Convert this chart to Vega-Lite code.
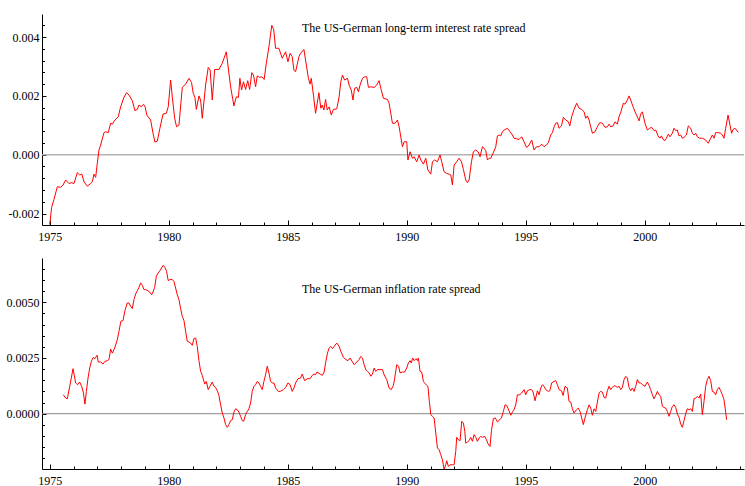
{
  "$schema": "https://vega.github.io/schema/vega-lite/v6.json",
  "padding": {"left": 6, "top": 14, "right": 0, "bottom": 0},
  "autosize": {"type": "pad"},
  "spacing": 16,
  "config": {
    "view": {"stroke": null},
    "font": "Liberation Serif",
    "axis": {
      "labelFont": "Liberation Serif",
      "labelFontSize": 12,
      "labelColor": "#000000",
      "domainColor": "#000000",
      "domainWidth": 1,
      "tickColor": "#000000",
      "tickWidth": 1,
      "grid": false,
      "title": null,
      "labelFlush": false,
      "labelOverlap": false
    }
  },
  "datasets": {
    "ir": [
      {"t": 1975.00, "v": -0.00238}, {"t": 1975.08, "v": -0.00179}, {"t": 1975.18, "v": -0.00152}, {"t": 1975.32, "v": -0.00109},
      {"t": 1975.46, "v": -0.00111}, {"t": 1975.56, "v": -0.00103}, {"t": 1975.67, "v": -0.00086}, {"t": 1975.81, "v": -0.00098},
      {"t": 1975.92, "v": -0.00095}, {"t": 1976.02, "v": -0.00098}, {"t": 1976.16, "v": -0.00061}, {"t": 1976.26, "v": -0.00069},
      {"t": 1976.35, "v": -0.00066}, {"t": 1976.44, "v": -0.00092}, {"t": 1976.58, "v": -0.00107}, {"t": 1976.72, "v": -0.00098},
      {"t": 1976.79, "v": -0.00092}, {"t": 1976.86, "v": -0.00066}, {"t": 1976.93, "v": -0.00077}, {"t": 1977.00, "v": -0.00029},
      {"t": 1977.07, "v": 0.00016}, {"t": 1977.14, "v": 0.00033}, {"t": 1977.28, "v": 0.00075}, {"t": 1977.35, "v": 0.00078},
      {"t": 1977.46, "v": 0.00075}, {"t": 1977.56, "v": 0.00107}, {"t": 1977.63, "v": 0.00104}, {"t": 1977.74, "v": 0.00118},
      {"t": 1977.88, "v": 0.00129}, {"t": 1977.98, "v": 0.00163}, {"t": 1978.12, "v": 0.00195}, {"t": 1978.23, "v": 0.00211},
      {"t": 1978.33, "v": 0.00203}, {"t": 1978.47, "v": 0.00184}, {"t": 1978.58, "v": 0.00150}, {"t": 1978.68, "v": 0.00154},
      {"t": 1978.75, "v": 0.00169}, {"t": 1978.85, "v": 0.00163}, {"t": 1978.93, "v": 0.00171}, {"t": 1979.00, "v": 0.00166},
      {"t": 1979.08, "v": 0.00135}, {"t": 1979.24, "v": 0.00118}, {"t": 1979.34, "v": 0.00073}, {"t": 1979.42, "v": 0.00043},
      {"t": 1979.52, "v": 0.00046}, {"t": 1979.63, "v": 0.00090}, {"t": 1979.76, "v": 0.00138}, {"t": 1979.90, "v": 0.00141},
      {"t": 1979.98, "v": 0.00163}, {"t": 1980.08, "v": 0.00254}, {"t": 1980.15, "v": 0.00197}, {"t": 1980.25, "v": 0.00124},
      {"t": 1980.33, "v": 0.00095}, {"t": 1980.43, "v": 0.00101}, {"t": 1980.57, "v": 0.00229}, {"t": 1980.71, "v": 0.00240},
      {"t": 1980.85, "v": 0.00260}, {"t": 1980.96, "v": 0.00245}, {"t": 1981.03, "v": 0.00209}, {"t": 1981.10, "v": 0.00195},
      {"t": 1981.16, "v": 0.00154}, {"t": 1981.27, "v": 0.00200}, {"t": 1981.34, "v": 0.00186}, {"t": 1981.41, "v": 0.00124},
      {"t": 1981.55, "v": 0.00237}, {"t": 1981.66, "v": 0.00297}, {"t": 1981.74, "v": 0.00288}, {"t": 1981.83, "v": 0.00186},
      {"t": 1981.93, "v": 0.00290}, {"t": 1982.11, "v": 0.00290}, {"t": 1982.25, "v": 0.00311}, {"t": 1982.42, "v": 0.00350},
      {"t": 1982.60, "v": 0.00231}, {"t": 1982.74, "v": 0.00166}, {"t": 1982.84, "v": 0.00197}, {"t": 1982.93, "v": 0.00195},
      {"t": 1982.99, "v": 0.00260}, {"t": 1983.06, "v": 0.00220}, {"t": 1983.14, "v": 0.00248}, {"t": 1983.23, "v": 0.00222},
      {"t": 1983.32, "v": 0.00252}, {"t": 1983.40, "v": 0.00222}, {"t": 1983.49, "v": 0.00279}, {"t": 1983.56, "v": 0.00271},
      {"t": 1983.65, "v": 0.00231}, {"t": 1983.72, "v": 0.00268}, {"t": 1983.82, "v": 0.00263}, {"t": 1983.91, "v": 0.00265},
      {"t": 1984.01, "v": 0.00256}, {"t": 1984.10, "v": 0.00311}, {"t": 1984.21, "v": 0.00367}, {"t": 1984.33, "v": 0.00440},
      {"t": 1984.41, "v": 0.00426}, {"t": 1984.49, "v": 0.00362}, {"t": 1984.63, "v": 0.00362}, {"t": 1984.77, "v": 0.00328},
      {"t": 1984.91, "v": 0.00350}, {"t": 1985.01, "v": 0.00316}, {"t": 1985.10, "v": 0.00345}, {"t": 1985.19, "v": 0.00333},
      {"t": 1985.26, "v": 0.00288}, {"t": 1985.33, "v": 0.00282}, {"t": 1985.47, "v": 0.00333}, {"t": 1985.54, "v": 0.00345},
      {"t": 1985.68, "v": 0.00358}, {"t": 1985.75, "v": 0.00322}, {"t": 1985.87, "v": 0.00260}, {"t": 1985.94, "v": 0.00240},
      {"t": 1985.99, "v": 0.00260}, {"t": 1986.08, "v": 0.00203}, {"t": 1986.17, "v": 0.00141}, {"t": 1986.24, "v": 0.00175},
      {"t": 1986.31, "v": 0.00211}, {"t": 1986.39, "v": 0.00158}, {"t": 1986.45, "v": 0.00169}, {"t": 1986.52, "v": 0.00152},
      {"t": 1986.59, "v": 0.00188}, {"t": 1986.66, "v": 0.00152}, {"t": 1986.74, "v": 0.00163}, {"t": 1986.83, "v": 0.00135},
      {"t": 1986.92, "v": 0.00154}, {"t": 1987.06, "v": 0.00156}, {"t": 1987.16, "v": 0.00197}, {"t": 1987.23, "v": 0.00248},
      {"t": 1987.30, "v": 0.00271}, {"t": 1987.39, "v": 0.00254}, {"t": 1987.51, "v": 0.00260}, {"t": 1987.58, "v": 0.00237},
      {"t": 1987.67, "v": 0.00220}, {"t": 1987.74, "v": 0.00186}, {"t": 1987.81, "v": 0.00226}, {"t": 1987.90, "v": 0.00229},
      {"t": 1987.97, "v": 0.00214}, {"t": 1988.04, "v": 0.00237}, {"t": 1988.14, "v": 0.00260}, {"t": 1988.23, "v": 0.00265},
      {"t": 1988.32, "v": 0.00265}, {"t": 1988.39, "v": 0.00229}, {"t": 1988.49, "v": 0.00231}, {"t": 1988.63, "v": 0.00229},
      {"t": 1988.74, "v": 0.00237}, {"t": 1988.84, "v": 0.00252}, {"t": 1988.91, "v": 0.00226}, {"t": 1989.02, "v": 0.00192},
      {"t": 1989.19, "v": 0.00188}, {"t": 1989.26, "v": 0.00175}, {"t": 1989.33, "v": 0.00141}, {"t": 1989.40, "v": 0.00107},
      {"t": 1989.51, "v": 0.00107}, {"t": 1989.61, "v": 0.00118}, {"t": 1989.68, "v": 0.00095}, {"t": 1989.82, "v": 0.00027},
      {"t": 1989.89, "v": 0.00044}, {"t": 1990.00, "v": 0.00044}, {"t": 1990.05, "v": -0.00018}, {"t": 1990.14, "v": 0.00010},
      {"t": 1990.24, "v": -0.00012}, {"t": 1990.31, "v": -0.00007}, {"t": 1990.42, "v": -0.00024}, {"t": 1990.52, "v": -0.00001},
      {"t": 1990.59, "v": -0.00018}, {"t": 1990.70, "v": -0.00032}, {"t": 1990.80, "v": -0.00012}, {"t": 1990.89, "v": -0.00052},
      {"t": 1991.01, "v": -0.00066}, {"t": 1991.08, "v": -0.00024}, {"t": 1991.17, "v": -0.00018}, {"t": 1991.29, "v": -0.00024},
      {"t": 1991.40, "v": -0.00001}, {"t": 1991.47, "v": -0.00024}, {"t": 1991.57, "v": -0.00058}, {"t": 1991.68, "v": -0.00064},
      {"t": 1991.78, "v": -0.00066}, {"t": 1991.85, "v": -0.00069}, {"t": 1991.92, "v": -0.00103}, {"t": 1991.99, "v": -0.00035},
      {"t": 1992.10, "v": -0.00024}, {"t": 1992.20, "v": -0.00012}, {"t": 1992.30, "v": -0.00024}, {"t": 1992.38, "v": -0.00050},
      {"t": 1992.48, "v": -0.00086}, {"t": 1992.55, "v": -0.00095}, {"t": 1992.62, "v": -0.00086}, {"t": 1992.72, "v": -0.00024},
      {"t": 1992.80, "v": 0.00010}, {"t": 1992.90, "v": 0.00016}, {"t": 1993.00, "v": 0.00010}, {"t": 1993.08, "v": -0.00007},
      {"t": 1993.18, "v": 0.00027}, {"t": 1993.25, "v": 0.00022}, {"t": 1993.32, "v": 0.00014}, {"t": 1993.39, "v": -0.00018},
      {"t": 1993.46, "v": -0.00012}, {"t": 1993.53, "v": -0.00012}, {"t": 1993.64, "v": 0.00007}, {"t": 1993.74, "v": 0.00027},
      {"t": 1993.81, "v": 0.00064}, {"t": 1993.88, "v": 0.00067}, {"t": 1993.95, "v": 0.00064}, {"t": 1994.02, "v": 0.00078},
      {"t": 1994.09, "v": 0.00084}, {"t": 1994.23, "v": 0.00090}, {"t": 1994.34, "v": 0.00078}, {"t": 1994.44, "v": 0.00067},
      {"t": 1994.51, "v": 0.00056}, {"t": 1994.72, "v": 0.00052}, {"t": 1994.83, "v": 0.00061}, {"t": 1994.93, "v": 0.00044},
      {"t": 1995.03, "v": 0.00025}, {"t": 1995.11, "v": 0.00029}, {"t": 1995.25, "v": 0.00050}, {"t": 1995.35, "v": 0.00016},
      {"t": 1995.45, "v": 0.00027}, {"t": 1995.56, "v": 0.00027}, {"t": 1995.67, "v": 0.00036}, {"t": 1995.77, "v": 0.00027},
      {"t": 1995.87, "v": 0.00033}, {"t": 1995.95, "v": 0.00041}, {"t": 1996.05, "v": 0.00067}, {"t": 1996.12, "v": 0.00075},
      {"t": 1996.19, "v": 0.00095}, {"t": 1996.26, "v": 0.00107}, {"t": 1996.33, "v": 0.00109}, {"t": 1996.40, "v": 0.00090},
      {"t": 1996.50, "v": 0.00098}, {"t": 1996.58, "v": 0.00127}, {"t": 1996.68, "v": 0.00118}, {"t": 1996.79, "v": 0.00112},
      {"t": 1996.85, "v": 0.00098}, {"t": 1996.93, "v": 0.00129}, {"t": 1997.03, "v": 0.00154}, {"t": 1997.14, "v": 0.00175},
      {"t": 1997.24, "v": 0.00158}, {"t": 1997.35, "v": 0.00154}, {"t": 1997.45, "v": 0.00146}, {"t": 1997.52, "v": 0.00124},
      {"t": 1997.59, "v": 0.00132}, {"t": 1997.66, "v": 0.00118}, {"t": 1997.73, "v": 0.00095}, {"t": 1997.80, "v": 0.00073},
      {"t": 1997.91, "v": 0.00078}, {"t": 1998.01, "v": 0.00095}, {"t": 1998.11, "v": 0.00109}, {"t": 1998.22, "v": 0.00107},
      {"t": 1998.33, "v": 0.00093}, {"t": 1998.43, "v": 0.00095}, {"t": 1998.50, "v": 0.00104}, {"t": 1998.57, "v": 0.00095},
      {"t": 1998.67, "v": 0.00098}, {"t": 1998.75, "v": 0.00112}, {"t": 1998.85, "v": 0.00104}, {"t": 1998.92, "v": 0.00129},
      {"t": 1999.00, "v": 0.00146}, {"t": 1999.10, "v": 0.00175}, {"t": 1999.17, "v": 0.00172}, {"t": 1999.27, "v": 0.00186},
      {"t": 1999.34, "v": 0.00200}, {"t": 1999.41, "v": 0.00186}, {"t": 1999.51, "v": 0.00163}, {"t": 1999.59, "v": 0.00146},
      {"t": 1999.69, "v": 0.00129}, {"t": 1999.76, "v": 0.00115}, {"t": 1999.83, "v": 0.00138}, {"t": 1999.90, "v": 0.00146},
      {"t": 1999.94, "v": 0.00132}, {"t": 2000.01, "v": 0.00107}, {"t": 2000.11, "v": 0.00084}, {"t": 2000.21, "v": 0.00090},
      {"t": 2000.29, "v": 0.00093}, {"t": 2000.39, "v": 0.00082}, {"t": 2000.46, "v": 0.00084}, {"t": 2000.56, "v": 0.00064},
      {"t": 2000.63, "v": 0.00056}, {"t": 2000.70, "v": 0.00064}, {"t": 2000.77, "v": 0.00052}, {"t": 2000.85, "v": 0.00048},
      {"t": 2000.91, "v": 0.00056}, {"t": 2000.99, "v": 0.00070}, {"t": 2001.06, "v": 0.00061}, {"t": 2001.16, "v": 0.00073},
      {"t": 2001.23, "v": 0.00090}, {"t": 2001.30, "v": 0.00082}, {"t": 2001.37, "v": 0.00084}, {"t": 2001.44, "v": 0.00064},
      {"t": 2001.51, "v": 0.00067}, {"t": 2001.58, "v": 0.00056}, {"t": 2001.65, "v": 0.00059}, {"t": 2001.75, "v": 0.00067},
      {"t": 2001.83, "v": 0.00098}, {"t": 2001.93, "v": 0.00090}, {"t": 2002.00, "v": 0.00073}, {"t": 2002.07, "v": 0.00067},
      {"t": 2002.14, "v": 0.00073}, {"t": 2002.21, "v": 0.00061}, {"t": 2002.31, "v": 0.00056}, {"t": 2002.42, "v": 0.00056},
      {"t": 2002.56, "v": 0.00050}, {"t": 2002.67, "v": 0.00039}, {"t": 2002.77, "v": 0.00056}, {"t": 2002.84, "v": 0.00067},
      {"t": 2002.91, "v": 0.00056}, {"t": 2002.98, "v": 0.00075}, {"t": 2003.09, "v": 0.00075}, {"t": 2003.19, "v": 0.00073},
      {"t": 2003.26, "v": 0.00067}, {"t": 2003.33, "v": 0.00056}, {"t": 2003.40, "v": 0.00090}, {"t": 2003.50, "v": 0.00135},
      {"t": 2003.58, "v": 0.00101}, {"t": 2003.65, "v": 0.00073}, {"t": 2003.71, "v": 0.00086}, {"t": 2003.79, "v": 0.00090},
      {"t": 2003.85, "v": 0.00084}, {"t": 2003.93, "v": 0.00076}
    ],
    "infl": [
      {"t": 1975.57, "v": 0.00085}, {"t": 1975.67, "v": 0.00070}, {"t": 1975.74, "v": 0.00067}, {"t": 1975.84, "v": 0.00123},
      {"t": 1975.98, "v": 0.00202}, {"t": 1976.09, "v": 0.00138}, {"t": 1976.17, "v": 0.00130}, {"t": 1976.26, "v": 0.00142},
      {"t": 1976.34, "v": 0.00123}, {"t": 1976.41, "v": 0.00097}, {"t": 1976.48, "v": 0.00043}, {"t": 1976.54, "v": 0.00100},
      {"t": 1976.61, "v": 0.00160}, {"t": 1976.68, "v": 0.00205}, {"t": 1976.75, "v": 0.00235}, {"t": 1976.83, "v": 0.00253},
      {"t": 1976.90, "v": 0.00247}, {"t": 1976.99, "v": 0.00262}, {"t": 1977.04, "v": 0.00232}, {"t": 1977.14, "v": 0.00232},
      {"t": 1977.24, "v": 0.00223}, {"t": 1977.32, "v": 0.00235}, {"t": 1977.42, "v": 0.00238}, {"t": 1977.49, "v": 0.00243},
      {"t": 1977.56, "v": 0.00290}, {"t": 1977.63, "v": 0.00272}, {"t": 1977.73, "v": 0.00295}, {"t": 1977.84, "v": 0.00332},
      {"t": 1977.91, "v": 0.00370}, {"t": 1977.99, "v": 0.00415}, {"t": 1978.08, "v": 0.00418}, {"t": 1978.16, "v": 0.00463},
      {"t": 1978.26, "v": 0.00497}, {"t": 1978.33, "v": 0.00497}, {"t": 1978.40, "v": 0.00482}, {"t": 1978.47, "v": 0.00472},
      {"t": 1978.54, "v": 0.00512}, {"t": 1978.61, "v": 0.00537}, {"t": 1978.68, "v": 0.00552}, {"t": 1978.75, "v": 0.00567},
      {"t": 1978.82, "v": 0.00587}, {"t": 1978.89, "v": 0.00576}, {"t": 1978.96, "v": 0.00557}, {"t": 1979.03, "v": 0.00557},
      {"t": 1979.12, "v": 0.00552}, {"t": 1979.20, "v": 0.00546}, {"t": 1979.28, "v": 0.00534}, {"t": 1979.34, "v": 0.00546},
      {"t": 1979.41, "v": 0.00567}, {"t": 1979.48, "v": 0.00617}, {"t": 1979.56, "v": 0.00632}, {"t": 1979.63, "v": 0.00642},
      {"t": 1979.70, "v": 0.00654}, {"t": 1979.77, "v": 0.00666}, {"t": 1979.84, "v": 0.00657}, {"t": 1979.91, "v": 0.00639},
      {"t": 1979.98, "v": 0.00597}, {"t": 1980.05, "v": 0.00602}, {"t": 1980.15, "v": 0.00602}, {"t": 1980.22, "v": 0.00594},
      {"t": 1980.29, "v": 0.00564}, {"t": 1980.36, "v": 0.00534}, {"t": 1980.43, "v": 0.00512}, {"t": 1980.50, "v": 0.00472},
      {"t": 1980.57, "v": 0.00437}, {"t": 1980.64, "v": 0.00418}, {"t": 1980.71, "v": 0.00370}, {"t": 1980.78, "v": 0.00325},
      {"t": 1980.85, "v": 0.00322}, {"t": 1980.92, "v": 0.00317}, {"t": 1980.99, "v": 0.00307}, {"t": 1981.06, "v": 0.00337},
      {"t": 1981.13, "v": 0.00340}, {"t": 1981.20, "v": 0.00302}, {"t": 1981.27, "v": 0.00238}, {"t": 1981.34, "v": 0.00190},
      {"t": 1981.41, "v": 0.00172}, {"t": 1981.51, "v": 0.00133}, {"t": 1981.58, "v": 0.00145}, {"t": 1981.66, "v": 0.00108},
      {"t": 1981.73, "v": 0.00123}, {"t": 1981.83, "v": 0.00142}, {"t": 1981.90, "v": 0.00123}, {"t": 1981.97, "v": 0.00118},
      {"t": 1982.04, "v": 0.00103}, {"t": 1982.11, "v": 0.00082}, {"t": 1982.18, "v": 0.00040}, {"t": 1982.25, "v": 0.00003},
      {"t": 1982.32, "v": -0.00019}, {"t": 1982.39, "v": -0.00049}, {"t": 1982.46, "v": -0.00061}, {"t": 1982.53, "v": -0.00049},
      {"t": 1982.60, "v": -0.00031}, {"t": 1982.67, "v": -0.00027}, {"t": 1982.74, "v": 0.00007}, {"t": 1982.81, "v": 0.00022},
      {"t": 1982.88, "v": 0.00018}, {"t": 1982.95, "v": 0.00007}, {"t": 1983.02, "v": -0.00012}, {"t": 1983.09, "v": -0.00031},
      {"t": 1983.15, "v": -0.00034}, {"t": 1983.23, "v": -0.00004}, {"t": 1983.30, "v": 0.00010}, {"t": 1983.37, "v": 0.00022},
      {"t": 1983.44, "v": 0.00048}, {"t": 1983.51, "v": 0.00100}, {"t": 1983.58, "v": 0.00123}, {"t": 1983.65, "v": 0.00130},
      {"t": 1983.72, "v": 0.00145}, {"t": 1983.79, "v": 0.00138}, {"t": 1983.86, "v": 0.00123}, {"t": 1983.93, "v": 0.00108},
      {"t": 1984.00, "v": 0.00145}, {"t": 1984.07, "v": 0.00175}, {"t": 1984.14, "v": 0.00213}, {"t": 1984.21, "v": 0.00183},
      {"t": 1984.28, "v": 0.00145}, {"t": 1984.35, "v": 0.00138}, {"t": 1984.42, "v": 0.00138}, {"t": 1984.49, "v": 0.00115},
      {"t": 1984.61, "v": 0.00100}, {"t": 1984.68, "v": 0.00100}, {"t": 1984.82, "v": 0.00108}, {"t": 1984.91, "v": 0.00118},
      {"t": 1985.01, "v": 0.00138}, {"t": 1985.10, "v": 0.00130}, {"t": 1985.19, "v": 0.00100}, {"t": 1985.26, "v": 0.00115},
      {"t": 1985.33, "v": 0.00138}, {"t": 1985.43, "v": 0.00157}, {"t": 1985.54, "v": 0.00160}, {"t": 1985.61, "v": 0.00178},
      {"t": 1985.71, "v": 0.00148}, {"t": 1985.82, "v": 0.00157}, {"t": 1985.94, "v": 0.00157}, {"t": 1986.03, "v": 0.00172},
      {"t": 1986.10, "v": 0.00178}, {"t": 1986.17, "v": 0.00175}, {"t": 1986.23, "v": 0.00187}, {"t": 1986.36, "v": 0.00178},
      {"t": 1986.45, "v": 0.00172}, {"t": 1986.53, "v": 0.00187}, {"t": 1986.59, "v": 0.00228}, {"t": 1986.67, "v": 0.00272},
      {"t": 1986.74, "v": 0.00295}, {"t": 1986.81, "v": 0.00302}, {"t": 1986.88, "v": 0.00292}, {"t": 1986.95, "v": 0.00302},
      {"t": 1987.06, "v": 0.00317}, {"t": 1987.16, "v": 0.00302}, {"t": 1987.23, "v": 0.00280}, {"t": 1987.34, "v": 0.00253},
      {"t": 1987.44, "v": 0.00243}, {"t": 1987.53, "v": 0.00238}, {"t": 1987.62, "v": 0.00250}, {"t": 1987.72, "v": 0.00232},
      {"t": 1987.79, "v": 0.00220}, {"t": 1987.90, "v": 0.00232}, {"t": 1988.00, "v": 0.00243}, {"t": 1988.07, "v": 0.00257},
      {"t": 1988.14, "v": 0.00250}, {"t": 1988.21, "v": 0.00220}, {"t": 1988.28, "v": 0.00198}, {"t": 1988.35, "v": 0.00190},
      {"t": 1988.42, "v": 0.00183}, {"t": 1988.49, "v": 0.00168}, {"t": 1988.56, "v": 0.00178}, {"t": 1988.63, "v": 0.00205},
      {"t": 1988.70, "v": 0.00190}, {"t": 1988.77, "v": 0.00198}, {"t": 1988.88, "v": 0.00198}, {"t": 1988.98, "v": 0.00198},
      {"t": 1989.05, "v": 0.00175}, {"t": 1989.16, "v": 0.00153}, {"t": 1989.26, "v": 0.00115}, {"t": 1989.35, "v": 0.00108},
      {"t": 1989.44, "v": 0.00127}, {"t": 1989.49, "v": 0.00157}, {"t": 1989.58, "v": 0.00220}, {"t": 1989.66, "v": 0.00213},
      {"t": 1989.72, "v": 0.00183}, {"t": 1989.82, "v": 0.00187}, {"t": 1989.91, "v": 0.00187}, {"t": 1990.00, "v": 0.00205},
      {"t": 1990.07, "v": 0.00228}, {"t": 1990.14, "v": 0.00238}, {"t": 1990.19, "v": 0.00228}, {"t": 1990.25, "v": 0.00250},
      {"t": 1990.31, "v": 0.00238}, {"t": 1990.39, "v": 0.00247}, {"t": 1990.45, "v": 0.00238}, {"t": 1990.49, "v": 0.00250},
      {"t": 1990.56, "v": 0.00190}, {"t": 1990.63, "v": 0.00187}, {"t": 1990.70, "v": 0.00145}, {"t": 1990.75, "v": 0.00138},
      {"t": 1990.84, "v": 0.00127}, {"t": 1990.89, "v": 0.00123}, {"t": 1990.95, "v": 0.00055}, {"t": 1991.01, "v": -0.00004},
      {"t": 1991.08, "v": -0.00012}, {"t": 1991.15, "v": -0.00019}, {"t": 1991.22, "v": -0.00087}, {"t": 1991.29, "v": -0.00154},
      {"t": 1991.36, "v": -0.00162}, {"t": 1991.43, "v": -0.00184}, {"t": 1991.50, "v": -0.00207}, {"t": 1991.57, "v": -0.00250},
      {"t": 1991.64, "v": -0.00229}, {"t": 1991.68, "v": -0.00211}, {"t": 1991.75, "v": -0.00237}, {"t": 1991.82, "v": -0.00229},
      {"t": 1991.92, "v": -0.00229}, {"t": 1991.99, "v": -0.00229}, {"t": 1992.06, "v": -0.00169}, {"t": 1992.10, "v": -0.00106},
      {"t": 1992.17, "v": -0.00117}, {"t": 1992.24, "v": -0.00121}, {"t": 1992.31, "v": -0.00034}, {"t": 1992.38, "v": -0.00042},
      {"t": 1992.44, "v": -0.00079}, {"t": 1992.48, "v": -0.00132}, {"t": 1992.55, "v": -0.00127}, {"t": 1992.62, "v": -0.00121},
      {"t": 1992.69, "v": -0.00106}, {"t": 1992.76, "v": -0.00124}, {"t": 1992.83, "v": -0.00094}, {"t": 1992.90, "v": -0.00106},
      {"t": 1992.97, "v": -0.00124}, {"t": 1993.04, "v": -0.00109}, {"t": 1993.11, "v": -0.00102}, {"t": 1993.18, "v": -0.00106},
      {"t": 1993.28, "v": -0.00102}, {"t": 1993.35, "v": -0.00117}, {"t": 1993.42, "v": -0.00136}, {"t": 1993.50, "v": -0.00147},
      {"t": 1993.56, "v": -0.00076}, {"t": 1993.64, "v": -0.00022}, {"t": 1993.72, "v": -0.00019}, {"t": 1993.81, "v": -0.00037},
      {"t": 1993.91, "v": -0.00027}, {"t": 1993.98, "v": -0.00019}, {"t": 1994.06, "v": 0.00010}, {"t": 1994.13, "v": 0.00040},
      {"t": 1994.20, "v": 0.00037}, {"t": 1994.30, "v": 0.00013}, {"t": 1994.37, "v": -0.00007}, {"t": 1994.45, "v": 0.00010},
      {"t": 1994.51, "v": 0.00018}, {"t": 1994.58, "v": 0.00040}, {"t": 1994.65, "v": 0.00085}, {"t": 1994.75, "v": 0.00085},
      {"t": 1994.83, "v": 0.00093}, {"t": 1994.93, "v": 0.00108}, {"t": 1995.00, "v": 0.00085}, {"t": 1995.07, "v": 0.00103},
      {"t": 1995.17, "v": 0.00108}, {"t": 1995.25, "v": 0.00108}, {"t": 1995.31, "v": 0.00097}, {"t": 1995.39, "v": 0.00058},
      {"t": 1995.49, "v": 0.00103}, {"t": 1995.56, "v": 0.00085}, {"t": 1995.63, "v": 0.00115}, {"t": 1995.70, "v": 0.00130},
      {"t": 1995.77, "v": 0.00123}, {"t": 1995.84, "v": 0.00108}, {"t": 1995.95, "v": 0.00100}, {"t": 1996.01, "v": 0.00103},
      {"t": 1996.09, "v": 0.00138}, {"t": 1996.19, "v": 0.00145}, {"t": 1996.26, "v": 0.00148}, {"t": 1996.33, "v": 0.00130},
      {"t": 1996.40, "v": 0.00108}, {"t": 1996.50, "v": 0.00103}, {"t": 1996.57, "v": 0.00082}, {"t": 1996.65, "v": 0.00123},
      {"t": 1996.75, "v": 0.00115}, {"t": 1996.82, "v": 0.00055}, {"t": 1996.89, "v": 0.00052}, {"t": 1996.96, "v": 0.00022},
      {"t": 1997.03, "v": 0.00003}, {"t": 1997.13, "v": 0.00018}, {"t": 1997.21, "v": 0.00025}, {"t": 1997.28, "v": 0.00010},
      {"t": 1997.35, "v": -0.00019}, {"t": 1997.42, "v": -0.00049}, {"t": 1997.49, "v": -0.00019}, {"t": 1997.59, "v": 0.00018},
      {"t": 1997.66, "v": 0.00040}, {"t": 1997.73, "v": 0.00025}, {"t": 1997.80, "v": -0.00007}, {"t": 1997.87, "v": 0.00022},
      {"t": 1997.94, "v": 0.00010}, {"t": 1998.01, "v": 0.00052}, {"t": 1998.08, "v": 0.00093}, {"t": 1998.15, "v": 0.00100},
      {"t": 1998.22, "v": 0.00097}, {"t": 1998.29, "v": 0.00073}, {"t": 1998.36, "v": 0.00070}, {"t": 1998.43, "v": 0.00103},
      {"t": 1998.50, "v": 0.00123}, {"t": 1998.57, "v": 0.00108}, {"t": 1998.64, "v": 0.00118}, {"t": 1998.71, "v": 0.00126},
      {"t": 1998.78, "v": 0.00123}, {"t": 1998.85, "v": 0.00118}, {"t": 1998.92, "v": 0.00123}, {"t": 1998.99, "v": 0.00108},
      {"t": 1999.06, "v": 0.00118}, {"t": 1999.13, "v": 0.00153}, {"t": 1999.20, "v": 0.00168}, {"t": 1999.27, "v": 0.00160},
      {"t": 1999.34, "v": 0.00118}, {"t": 1999.41, "v": 0.00103}, {"t": 1999.48, "v": 0.00115}, {"t": 1999.55, "v": 0.00100},
      {"t": 1999.62, "v": 0.00123}, {"t": 1999.69, "v": 0.00153}, {"t": 1999.76, "v": 0.00138}, {"t": 1999.83, "v": 0.00138},
      {"t": 1999.90, "v": 0.00130}, {"t": 2000.01, "v": 0.00123}, {"t": 2000.11, "v": 0.00142}, {"t": 2000.18, "v": 0.00127},
      {"t": 2000.25, "v": 0.00108}, {"t": 2000.32, "v": 0.00085}, {"t": 2000.39, "v": 0.00067}, {"t": 2000.46, "v": 0.00082},
      {"t": 2000.53, "v": 0.00100}, {"t": 2000.60, "v": 0.00085}, {"t": 2000.67, "v": 0.00078}, {"t": 2000.74, "v": 0.00033},
      {"t": 2000.81, "v": 0.00028}, {"t": 2000.88, "v": 0.00025}, {"t": 2000.95, "v": 0.00010}, {"t": 2001.02, "v": -0.00012},
      {"t": 2001.09, "v": 0.00010}, {"t": 2001.16, "v": 0.00033}, {"t": 2001.23, "v": 0.00040}, {"t": 2001.30, "v": 0.00028},
      {"t": 2001.37, "v": -0.00001}, {"t": 2001.44, "v": -0.00016}, {"t": 2001.51, "v": -0.00046}, {"t": 2001.58, "v": -0.00061},
      {"t": 2001.65, "v": -0.00031}, {"t": 2001.72, "v": -0.00001}, {"t": 2001.79, "v": 0.00022}, {"t": 2001.86, "v": 0.00018},
      {"t": 2001.93, "v": 0.00022}, {"t": 2002.00, "v": 0.00010}, {"t": 2002.07, "v": 0.00067}, {"t": 2002.14, "v": 0.00070},
      {"t": 2002.21, "v": 0.00078}, {"t": 2002.28, "v": 0.00070}, {"t": 2002.35, "v": 0.00088}, {"t": 2002.42, "v": -0.00004},
      {"t": 2002.49, "v": 0.00055}, {"t": 2002.56, "v": 0.00123}, {"t": 2002.63, "v": 0.00153}, {"t": 2002.70, "v": 0.00168},
      {"t": 2002.77, "v": 0.00148}, {"t": 2002.84, "v": 0.00100}, {"t": 2002.91, "v": 0.00097}, {"t": 2002.98, "v": 0.00085},
      {"t": 2003.05, "v": 0.00108}, {"t": 2003.12, "v": 0.00118}, {"t": 2003.19, "v": 0.00103}, {"t": 2003.26, "v": 0.00085},
      {"t": 2003.33, "v": 0.00063}, {"t": 2003.40, "v": 0.00007}, {"t": 2003.44, "v": -0.00027}
    ]
  },
  "vconcat": [
    {
      "width": 702,
      "height": 211,
      "resolve": {"axis": {"x": "independent", "y": "independent"}},
      "layer": [
        {
          "data": {"name": "ir"},
          "mark": {"type": "line", "strokeOpacity": 0},
          "encoding": {
            "x": {"field": "t", "type": "quantitative",
                  "scale": {"domain": [1974.676, 2004.17], "nice": false, "zero": false},
                  "axis": {"orient": "bottom", "values": [1975,1976,1977,1978,1979,1980,1981,1982,1983,1984,1985,1986,1987,1988,1989,1990,1991,1992,1993,1994,1995,1996,1997,1998,1999,2000,2001,2002,2003,2004],
                           "labels": false, "domain": false, "tickSize": -3}},
            "y": {"field": "v", "type": "quantitative",
                  "scale": {"domain": [-0.002391, 0.004786], "nice": false, "zero": false},
                  "axis": {"orient": "left", "values": [-0.002,-0.0016,-0.0012,-0.0008,-0.0004,0,0.0004,0.0008,0.0012,0.0016,0.002,0.0024,0.0028,0.0032,0.0036,0.004,0.0044],
                           "labels": false, "domain": false, "tickSize": -2.5}}
          }
        },
        {
          "data": {"values": [{}]},
          "mark": {"type": "rule", "color": "#b4b4b4", "strokeWidth": 1.5},
          "encoding": {"y": {"datum": 0, "type": "quantitative", "axis": null}}
        },
        {
          "data": {"name": "ir"},
          "mark": {"type": "line", "color": "#ff0000", "strokeWidth": 1, "clip": true},
          "encoding": {
            "x": {"field": "t", "type": "quantitative",
                  "axis": {"orient": "bottom", "values": [1975,1980,1985,1990,1995,2000], "format": "d",
                           "tickSize": -5, "labelPadding": 11}},
            "y": {"field": "v", "type": "quantitative",
                  "axis": {"orient": "left", "values": [-0.002,0,0.002,0.004], "tickSize": -4, "labelPadding": 7,
                           "labelExpr": "datum.value < 0 ? '-' + format(abs(datum.value), '.3f') : format(datum.value, '.3f')"}}
          }
        },
        {
          "data": {"values": [{}]},
          "mark": {"type": "text", "align": "left", "baseline": "middle", "font": "Liberation Serif", "fontSize": 12, "color": "#000000"},
          "encoding": {
            "x": {"datum": 1985.6, "type": "quantitative", "axis": null},
            "y": {"datum": 0.0043, "type": "quantitative", "axis": null},
            "text": {"value": "The US-German long-term interest rate spread"}
          }
        }
      ]
    },
    {
      "width": 702,
      "height": 211,
      "resolve": {"axis": {"x": "independent", "y": "independent"}},
      "layer": [
        {
          "data": {"name": "infl"},
          "mark": {"type": "line", "strokeOpacity": 0},
          "encoding": {
            "x": {"field": "t", "type": "quantitative",
                  "scale": {"domain": [1974.676, 2004.17], "nice": false, "zero": false},
                  "axis": {"orient": "bottom", "values": [1975,1976,1977,1978,1979,1980,1981,1982,1983,1984,1985,1986,1987,1988,1989,1990,1991,1992,1993,1994,1995,1996,1997,1998,1999,2000,2001,2002,2003,2004],
                           "labels": false, "domain": false, "tickSize": -3}},
            "y": {"field": "v", "type": "quantitative",
                  "scale": {"domain": [-0.002482, 0.006988], "nice": false, "zero": false},
                  "axis": {"orient": "left", "values": [-0.002,-0.0015,-0.001,-0.0005,0,0.0005,0.001,0.0015,0.002,0.0025,0.003,0.0035,0.004,0.0045,0.005,0.0055,0.006,0.0065],
                           "labels": false, "domain": false, "tickSize": -2.5}}
          }
        },
        {
          "data": {"values": [{}]},
          "mark": {"type": "rule", "color": "#888888", "strokeWidth": 1},
          "encoding": {"y": {"datum": 0, "type": "quantitative", "axis": null}}
        },
        {
          "data": {"name": "infl"},
          "mark": {"type": "line", "color": "#ff0000", "strokeWidth": 1, "clip": true},
          "encoding": {
            "x": {"field": "t", "type": "quantitative",
                  "axis": {"orient": "bottom", "values": [1975,1980,1985,1990,1995,2000], "format": "d",
                           "tickSize": -5, "labelPadding": 11}},
            "y": {"field": "v", "type": "quantitative",
                  "axis": {"orient": "left", "values": [0,0.0025,0.005], "format": ".4f", "tickSize": -4, "labelPadding": 7}}
          }
        },
        {
          "data": {"values": [{}]},
          "mark": {"type": "text", "align": "left", "baseline": "middle", "font": "Liberation Serif", "fontSize": 12, "color": "#000000"},
          "encoding": {
            "x": {"datum": 1985.6, "type": "quantitative", "axis": null},
            "y": {"datum": 0.0056, "type": "quantitative", "axis": null},
            "text": {"value": "The US-German inflation rate spread"}
          }
        }
      ]
    }
  ]
}
